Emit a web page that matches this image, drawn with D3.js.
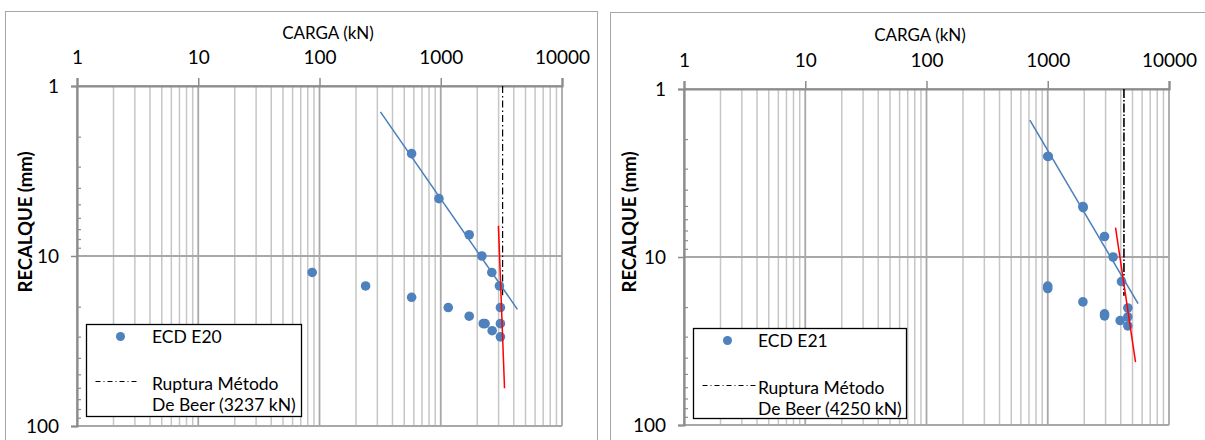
<!DOCTYPE html>
<html>
<head>
<meta charset="utf-8">
<script src="https://cdn.jsdelivr.net/npm/d3@7"></script>
<style>
  body { margin: 0; background: #fff; }
  svg { display: block; font-family: Lato, "Open Sans", sans-serif; }
</style>
</head>
<body>
<div id="chart"></div>
<script>
// tick labels
let cargaTicks = [1, 10, 100, 1000, 10000]
let recalqueTicks = [1, 10, 100]

// ECD E20 load test
let e20Carga    = [575, 966, 1717, 2183, 2637, 3048, 3106, 3106, 3106, 87, 240, 575, 1153, 1717, 2240, 2320, 2654]
let e20Recalque = [2.5, 4.6, 7.5, 10.0, 12.5, 15.0, 20.1, 25.0, 29.9, 12.5, 15.0, 17.5, 20.1, 22.6, 25.0, 25.0, 27.5]
let e20TrendCarga = [318, 4287]
let e20TrendRecalque = [1.42, 20.6]
let e20RedCarga = [2990, 3357]
let e20RedRecalque = [6.63, 60]
let e20Ruptura = 3237

// ECD E21 load test
let e21Carga    = [1000, 1010, 1950, 1960, 2940, 3460, 4060, 4575, 4575, 4575, 3955, 2940, 2940, 1950, 1000, 1000]
let e21Recalque = [2.52, 2.52, 5.0, 5.08, 7.55, 10.0, 14.0, 20.1, 22.7, 25.7, 23.9, 21.8, 22.4, 18.5, 14.9, 15.4]
let e21TrendCarga = [712, 5560]
let e21TrendRecalque = [1.53, 18.97]
let e21RedCarga = [3623, 5296]
let e21RedRecalque = [6.68, 42.3]
let e21Ruptura = 4250

let svg = d3.select("#chart")
    .append("svg")
    .attr("width", 1205)
    .attr("height", 440)

function drawPanel(p) {
    let g = svg.append("g")

    // chart frame
    g.append("rect")
        .attr("x", p.frame[0]).attr("y", p.frame[1])
        .attr("width", p.frame[2]).attr("height", p.frame[3])
        .attr("fill", "#fff").attr("stroke", "#a6a6a6").attr("stroke-width", 1)

    let x = d3.scaleLog().domain([1, 10000]).range([p.left, p.right])
    let y = d3.scaleLog().domain([1, 100]).range([p.top, p.bottom])

    // vertical grid, every 1..9 step of each decade
    let minors = x.ticks()
    g.selectAll("line.vgrid")
        .data(minors)
        .enter()
        .append("line")
        .attr("x1", d => x(d)).attr("x2", d => x(d))
        .attr("y1", p.top).attr("y2", p.bottom)
        .attr("stroke", d => cargaTicks.includes(d) ? "#a8a8a8" : "#c6c6c6")
        .attr("stroke-width", d => cargaTicks.includes(d) ? 1.8 : 1.5)

    // horizontal grid only at decades
    g.selectAll("line.hgrid")
        .data(recalqueTicks)
        .enter()
        .append("line")
        .attr("x1", p.left).attr("x2", p.right)
        .attr("y1", d => y(d)).attr("y2", d => y(d))
        .attr("stroke", "#a8a8a8")
        .attr("stroke-width", 1.8)

    // minor ticks on the settlement axis (inside)
    let yMinors = y.ticks().filter(d => !recalqueTicks.includes(d))
    g.selectAll("line.yminor")
        .data(yMinors)
        .enter()
        .append("line")
        .attr("x1", p.left).attr("x2", p.left + 4)
        .attr("y1", d => y(d)).attr("y2", d => y(d))
        .attr("stroke", "#8c8c8c")
        .attr("stroke-width", 1.2)

    // top axis
    let xAxis = g.append("g")
        .attr("transform", "translate(0," + p.top + ")")
        .call(d3.axisTop(x).tickValues(cargaTicks).tickFormat(d3.format("d")).tickSize(8).tickPadding(14))
    xAxis.select(".domain").attr("stroke", "#8c8c8c").attr("stroke-width", 2.2)
    xAxis.selectAll(".tick line").attr("stroke", "#8c8c8c").attr("stroke-width", 1.5)
    xAxis.selectAll("text").attr("font-size", 19).attr("fill", "#000")
        .attr("font-family", "Lato, 'Open Sans', sans-serif")

    // left axis
    let yAxis = g.append("g")
        .attr("transform", "translate(" + p.left + ",0)")
        .call(d3.axisLeft(y).tickValues(recalqueTicks).tickFormat(d3.format("d")).tickSize(6).tickPadding(12))
    yAxis.select(".domain").attr("stroke", "#8c8c8c").attr("stroke-width", 2.2)
    yAxis.selectAll(".tick line").attr("stroke", "#8c8c8c").attr("stroke-width", 1.5)
    yAxis.selectAll("text").attr("font-size", 19).attr("fill", "#000")
        .attr("font-family", "Lato, 'Open Sans', sans-serif")

    // axis titles
    g.append("text")
        .attr("x", p.titleX).attr("y", p.titleY)
        .attr("text-anchor", "middle").attr("dominant-baseline", "central")
        .attr("font-size", 17)
        .text("CARGA (kN)")
    g.append("text")
        .attr("transform", "translate(" + p.yTitleX + "," + p.yTitleY + ")rotate(-90)")
        .attr("text-anchor", "middle").attr("dominant-baseline", "central")
        .attr("font-size", 18.5).attr("font-weight", "bold")
        .text("RECALQUE (mm)")

    // De Beer rupture load
    g.append("line")
        .attr("x1", x(p.ruptura)).attr("x2", x(p.ruptura))
        .attr("y1", y(1)).attr("y2", y(17))
        .attr("stroke", "#000")
        .attr("stroke-width", p.dashWidth)
        .attr("stroke-dasharray", p.dash)

    let line = d3.line().x(d => x(d[0])).y(d => y(d[1]))

    // log-log fit of the first branch
    g.append("path")
        .datum(d3.zip(p.trendCarga, p.trendRecalque))
        .attr("d", line)
        .attr("fill", "none").attr("stroke", "#4a7ebb").attr("stroke-width", 1.5)

    g.selectAll("circle.pt")
        .data(d3.zip(p.carga, p.recalque))
        .enter()
        .append("circle")
        .attr("cx", d => x(d[0]))
        .attr("cy", d => y(d[1]))
        .attr("r", 4.8)
        .attr("fill", "#4f81bd")

    // second branch
    g.append("path")
        .datum(d3.zip(p.redCarga, p.redRecalque))
        .attr("d", line)
        .attr("fill", "none").attr("stroke", "#ff0000").attr("stroke-width", 1.5)

    // legend
    let lg = g.append("g")
    lg.append("rect")
        .attr("x", p.legend[0]).attr("y", p.legend[1])
        .attr("width", p.legend[2]).attr("height", p.legend[3])
        .attr("fill", "#fff").attr("stroke", "#000").attr("stroke-width", 1.3)
    let lx = p.legend[0], ly = p.legend[1]
    lg.append("circle")
        .attr("cx", lx + 34).attr("cy", ly + 12)
        .attr("r", 4.5).attr("fill", "#4f81bd")
    lg.append("text")
        .attr("x", p.legendTextX).attr("y", ly + 12)
        .attr("dominant-baseline", "central").attr("font-size", 17.5)
        .text(p.name)
    lg.append("line")
        .attr("x1", lx + p.legendDash[0]).attr("x2", lx + p.legendDash[1])
        .attr("y1", ly + 57).attr("y2", ly + 57)
        .attr("stroke", "#000").attr("stroke-width", 1)
        .attr("stroke-dasharray", "5,3,1,3")
    lg.append("text")
        .attr("x", p.legendTextX).attr("y", ly + 59)
        .attr("dominant-baseline", "central").attr("font-size", 17.5)
        .text("Ruptura Método")
    lg.append("text")
        .attr("x", p.legendTextX).attr("y", ly + 80)
        .attr("dominant-baseline", "central").attr("font-size", 17.5)
        .text("De Beer (" + p.ruptura + " kN)")
}

drawPanel({
    frame: [5.5, 11.5, 592, 440],
    left: 77, right: 562, top: 86, bottom: 426,
    titleX: 328, titleY: 32, yTitleX: 25, yTitleY: 222,
    carga: e20Carga, recalque: e20Recalque,
    trendCarga: e20TrendCarga, trendRecalque: e20TrendRecalque,
    redCarga: e20RedCarga, redRecalque: e20RedRecalque,
    ruptura: e20Ruptura, dash: "7,3,1.5,3", dashWidth: 1.2,
    legend: [86.5, 324.5, 215, 92], legendTextX: 152, legendDash: [9, 52],
    name: "ECD E20"
})

drawPanel({
    frame: [610.5, 12.5, 620, 440],
    left: 684, right: 1169, top: 89, bottom: 425,
    titleX: 920, titleY: 34, yTitleX: 629, yTitleY: 222,
    carga: e21Carga, recalque: e21Recalque,
    trendCarga: e21TrendCarga, trendRecalque: e21TrendRecalque,
    redCarga: e21RedCarga, redRecalque: e21RedRecalque,
    ruptura: e21Ruptura, dash: "9,2,1.5,2", dashWidth: 1.6,
    legend: [693.5, 328.5, 213, 90], legendTextX: 758, legendDash: [9, 62],
    name: "ECD E21"
})
</script>
</body>
</html>
